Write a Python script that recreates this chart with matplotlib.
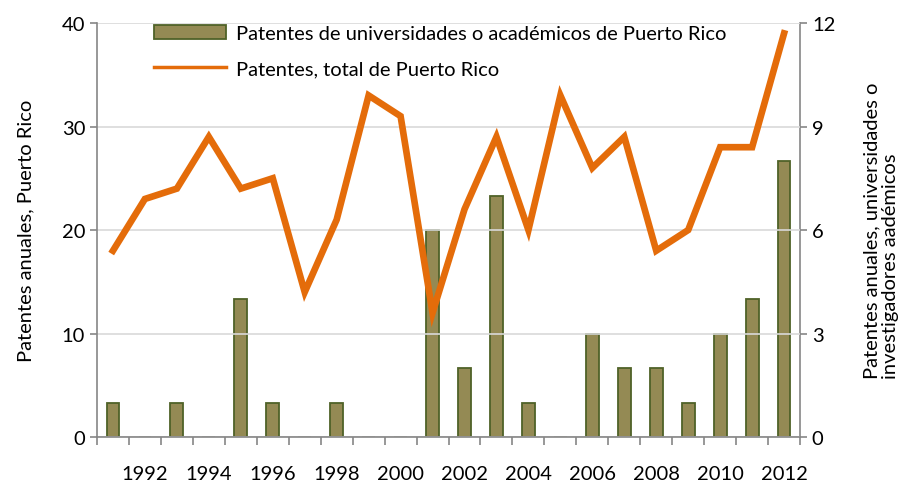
import matplotlib
matplotlib.use("Agg")
import matplotlib.pyplot as plt
import numpy as np

years = list(range(1991, 2013))
total_pr = [18, 23, 24, 29, 24, 25, 14, 21, 33, 31, 12, 22, 29, 20, 33, 26, 29, 18, 20, 28, 28, 39]
univ_pr = [1, 0, 1, 0, 4, 1, 0, 1, 0, 0, 6, 2, 7, 1, 0, 3, 2, 2, 1, 3, 4, 8]
left_ticks = [0, 10, 20, 30, 40]
right_ticks = [0, 3, 6, 9, 12]

plt.rcParams['font.family'] = ['Lato', 'DejaVu Sans']
fs = 14.5

fig = plt.figure(figsize=(9.03, 4.85), dpi=100)
ax = fig.add_axes([0.1074, 0.0969, 0.7786, 0.8536])
ax2 = ax.twinx()

x = np.arange(len(years))
# bars on right axis
ax2.bar(x, univ_pr, width=0.4, color='#948A54', edgecolor='#4F6228', linewidth=1.3,
        label='Patentes de universidades o académicos de Puerto Rico', zorder=2)
ax2.set_ylim(0, 12)
ax2.set_yticks(right_ticks)

# line on left axis, drawn on top
ax.set_zorder(ax2.get_zorder() + 1)
ax.patch.set_visible(False)
ax.plot(x, total_pr, color='#E46C0A', linewidth=4.8, solid_joinstyle='miter',
        label='Patentes, total de Puerto Rico', zorder=3)
ax.set_ylim(0, 40)
ax.set_yticks(left_ticks)
ax.set_xlim(-0.5, len(years) - 0.5)
ax.grid(axis='y', color='#D9D9D9', linewidth=1.2, zorder=0)
ax.set_axisbelow(True)

# x ticks: marks at category boundaries, labels under even years
ax.set_xticks(np.arange(-0.5, len(years), 1.0), minor=True)
even_idx = [i for i, y in enumerate(years) if y % 2 == 0]
ax.set_xticks(even_idx)
ax.set_xticklabels([str(years[i]) for i in even_idx])
ax.tick_params(axis='x', which='major', length=0, pad=20, labelsize=fs)
ax.tick_params(axis='x', which='minor', length=6, color='#868686', width=1.2)
ax.tick_params(axis='y', length=5, color='#868686', width=1.2, labelsize=fs)
ax2.tick_params(axis='y', length=5, color='#868686', width=1.2, labelsize=fs)
ax2.tick_params(axis='x', length=0)

for a in (ax, ax2):
    a.spines['top'].set_visible(False)
    for s in ('left', 'right', 'bottom'):
        a.spines[s].set_color('#868686')
        a.spines[s].set_linewidth(1.2)
ax.spines['right'].set_visible(False)
ax2.spines['left'].set_visible(False)
ax2.spines['bottom'].set_visible(False)

ax.set_ylabel('Patentes anuales, Puerto Rico', fontsize=fs, labelpad=20)
ax2.set_ylabel('Patentes anuales, universidades o\ninvestigadores aadémicos', fontsize=fs,
               labelpad=20, linespacing=1.15, multialignment='left')

h1, l1 = ax2.get_legend_handles_labels()
h2, l2 = ax.get_legend_handles_labels()
leg = ax.legend(h1 + h2, l1 + l2, loc='upper left', bbox_to_anchor=(0.055, 1.04),
                frameon=False, fontsize=fs, handlelength=3.6, handletextpad=0.5,
                labelspacing=0.9)
for ln in leg.get_lines():
    ln.set_linewidth(2.5)

fig.savefig('out.png', dpi=100)
